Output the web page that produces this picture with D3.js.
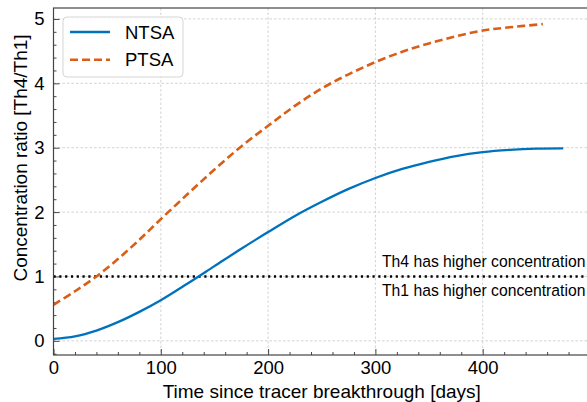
<!DOCTYPE html>
<html>
<head>
<meta charset="utf-8">
<script src="https://cdn.jsdelivr.net/npm/d3@7"></script>
<style>
  html, body { margin: 0; padding: 0; background: #fff; }
  svg { display: block; font-family: "Liberation Sans", Arial, sans-serif; }
</style>
</head>
<body>
<svg id="chart" width="587" height="402"></svg>
<script>
// ---- data ----
const ntsaDays = [0, 20, 40, 60, 80, 100, 125, 150, 175, 200, 225, 250, 275, 300, 325, 350, 375, 400, 425, 450, 475];
const ntsaRatio = [0.03, 0.07, 0.16, 0.29, 0.45, 0.63, 0.89, 1.16, 1.43, 1.69, 1.94, 2.16, 2.36, 2.53, 2.67, 2.78, 2.87, 2.93, 2.965, 2.985, 2.99];
const ptsaDays = [0, 20, 40, 60, 80, 100, 125, 150, 175, 200, 225, 250, 275, 300, 325, 350, 375, 400, 425, 456];
const ptsaRatio = [0.56, 0.77, 1.0, 1.27, 1.57, 1.89, 2.28, 2.66, 3.02, 3.34, 3.65, 3.92, 4.14, 4.33, 4.49, 4.62, 4.73, 4.82, 4.87, 4.92];
const seriesNames = ["NTSA", "PTSA"];
const xTicks = [0, 100, 200, 300, 400];
const yTicks = [0, 1, 2, 3, 4, 5];
const thresholdValue = 1;
const annotationAbove = "Th4 has higher concentration";
const annotationBelow = "Th1 has higher concentration";
const xLabel = "Time since tracer breakthrough [days]";
const yLabel = "Concentration ratio [Th4/Th1]";

// ---- layout ----
const svg = d3.select("#chart");
const L = 53.5, T = 8, B = 355, R = 590;
const x = d3.scaleLinear().domain([0, 500]).range([L, R]);
const y = d3.scaleLinear().domain([-0.22, 5.17]).range([B, T]);
const colors = { NTSA: "#0072BD", PTSA: "#D95F18" };
const FONT = '"Liberation Sans", Arial, sans-serif';

// clip
svg.append("defs").append("clipPath").attr("id", "clip")
  .append("rect").attr("x", L).attr("y", T).attr("width", R - L).attr("height", B - T);

// grid
const grid = svg.append("g").attr("stroke", "#c8c8c8").attr("stroke-width", 0.8).attr("stroke-dasharray", "2.5,2");
grid.selectAll(".gx").data(xTicks).join("line")
  .attr("x1", d => x(d)).attr("x2", d => x(d)).attr("y1", T).attr("y2", B);
grid.selectAll(".gy").data(yTicks).join("line")
  .attr("y1", d => y(d)).attr("y2", d => y(d)).attr("x1", L).attr("x2", R);

// axes
const tickFont = 18.5;
const xAxis = d3.axisBottom(x).tickValues(xTicks).tickSize(-6).tickFormat(d3.format("d"));
const gx = svg.append("g").attr("transform", `translate(0,${B})`).call(xAxis);
gx.selectAll("text").attr("y", 19).attr("dy", null);
const xMinor = d3.axisBottom(x).tickValues(d3.range(0, 501, 20).filter(v => v % 100 !== 0)).tickSize(-3).tickFormat("");
const gxm = svg.append("g").attr("transform", `translate(0,${B})`).call(xMinor);
const yAxis = d3.axisLeft(y).tickValues(yTicks).tickSize(-6).tickPadding(9).tickFormat(d3.format("d"));
const gy = svg.append("g").attr("transform", `translate(${L},0)`).call(yAxis);
const yMinor = d3.axisLeft(y).tickValues(d3.range(-0.2, 5.2, 0.2).map(v => +v.toFixed(1)).filter(v => Math.abs(v - Math.round(v)) > 1e-6)).tickSize(-3).tickFormat("");
const gym = svg.append("g").attr("transform", `translate(${L},0)`).call(yMinor);
[gx, gxm, gy, gym].forEach(g => {
  g.select(".domain").remove();
  g.selectAll("line").attr("stroke", "#333").attr("stroke-width", 0.9);
  g.selectAll("text").attr("fill", "#000").style("font-size", tickFont + "px").style("font-family", FONT);
});

// threshold line
svg.append("line")
  .attr("x1", x(0)).attr("x2", R).attr("y1", y(thresholdValue)).attr("y2", y(thresholdValue))
  .attr("stroke", "#000").attr("stroke-width", 2.6).attr("stroke-dasharray", "2.2,3.6");

// series
const line = d3.line().curve(d3.curveCatmullRom.alpha(0.5)).x(d => x(d[0])).y(d => y(d[1]));
const plot = svg.append("g").attr("clip-path", "url(#clip)");
plot.append("path").datum(ntsaDays.map((d, i) => [d, ntsaRatio[i]]))
  .attr("d", line).attr("fill", "none").attr("stroke", colors.NTSA).attr("stroke-width", 2.3);
plot.append("path").datum(ptsaDays.map((d, i) => [d, ptsaRatio[i]]))
  .attr("d", line).attr("fill", "none").attr("stroke", colors.PTSA).attr("stroke-width", 2.6)
  .attr("stroke-dasharray", "8,4");

// annotations: size so the text spans x=382..585.5
const annTargetW = 203.5;
const annTexts = [[annotationAbove, -9.4], [annotationBelow, 20]].map(([t, off]) =>
  svg.append("text").attr("x", 382).attr("y", y(thresholdValue) + off)
    .style("font-size", "15px").style("font-family", FONT).text(t));
const w15 = annTexts[0].node().getComputedTextLength();
const annSize = Math.min(16, 15 * annTargetW / w15);
annTexts.forEach(t => t.style("font-size", annSize + "px"));

// frame
svg.append("rect").attr("x", L).attr("y", T).attr("width", R - L).attr("height", B - T)
  .attr("fill", "none").attr("stroke", "#444").attr("stroke-width", 1.2);

// legend
const legFont = 18.5;
const lg = svg.append("g");
lg.append("rect").attr("x", 63).attr("y", 17).attr("width", 120).attr("height", 60).attr("rx", 4)
  .attr("fill", "#fff").attr("fill-opacity", 0.8).attr("stroke", "#d5d5d5").attr("stroke-width", 1);
seriesNames.forEach((name, i) => {
  const ly = 32 + i * 27.7;
  lg.append("line").attr("x1", 70).attr("x2", 110).attr("y1", ly).attr("y2", ly)
    .attr("stroke", colors[name]).attr("stroke-width", name === "PTSA" ? 2.6 : 2.3)
    .attr("stroke-dasharray", name === "PTSA" ? "8,4" : null);
  lg.append("text").attr("x", 125).attr("y", ly).attr("dy", "0.36em")
    .style("font-size", legFont + "px").text(name);
});

// axis labels
const labFont = 19;
svg.append("text").attr("x", (L + R) / 2).attr("y", 398).attr("text-anchor", "middle")
  .style("font-size", labFont + "px").text(xLabel);
svg.append("text").attr("transform", `translate(26.5,158) rotate(-90)`)
  .attr("text-anchor", "middle").style("font-size", labFont + "px").text(yLabel);
</script>
</body>
</html>
